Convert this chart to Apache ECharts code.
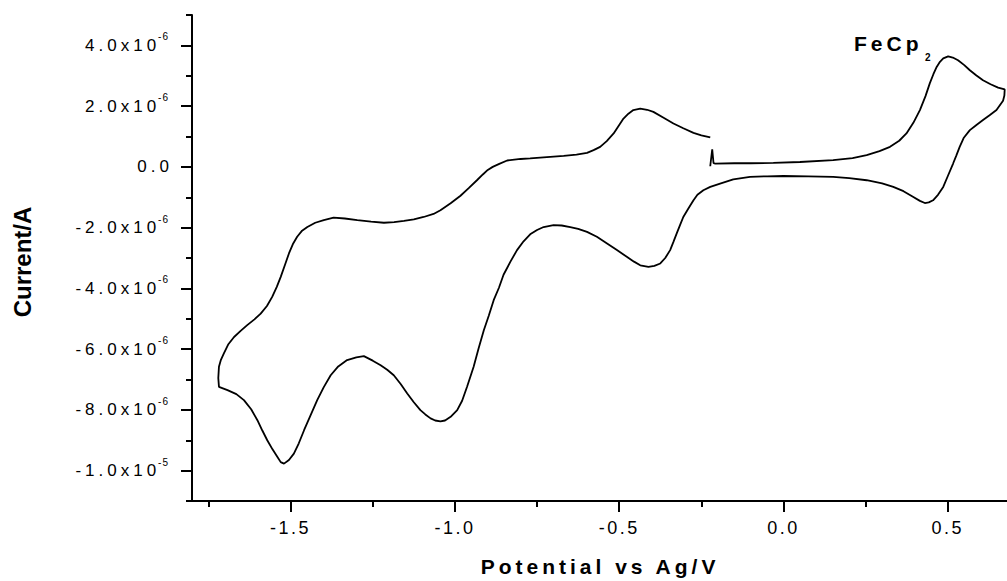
<!DOCTYPE html>
<html>
<head>
<meta charset="utf-8">
<script src="https://cdn.jsdelivr.net/npm/echarts@6/dist/echarts.min.js"></script>
<style>
html, body { margin: 0; padding: 0; background: #fff; }
#chart { width: 1007px; height: 581px; }
#chart svg text[style*="17px"] { letter-spacing: 4px; }
#chart svg text[style*="18px"] { letter-spacing: 2.5px; }
#chart svg text[style*="21px"] { letter-spacing: 4px; }
#chart svg text[style*="10px"] { letter-spacing: 1px; }
</style>
</head>
<body>
<div id="chart"></div>
<script>
// Cyclic voltammogram, potential (V vs Ag) in scan order
const potential = [
  -0.223, -0.217, -0.213, -0.208, -0.150, -0.100, -0.031, 0.050, 0.151, 0.210,
  0.253, 0.292, 0.324, 0.352, 0.374, 0.395, 0.415, 0.432, 0.445, 0.456,
  0.466, 0.476, 0.486, 0.501, 0.515, 0.531, 0.550, 0.567, 0.587, 0.607,
  0.630, 0.653, 0.673, 0.672, 0.668, 0.648, 0.627, 0.607, 0.587, 0.567,
  0.548, 0.536, 0.526, 0.516, 0.500, 0.486, 0.470, 0.455, 0.442, 0.430,
  0.415, 0.395, 0.365, 0.334, 0.300, 0.253, 0.200, 0.151, 0.075, 0.000,
  -0.050, -0.102, -0.153, -0.193, -0.223, -0.244, -0.262, -0.274, -0.290, -0.305,
  -0.315, -0.325, -0.335, -0.345, -0.360, -0.375, -0.393, -0.411, -0.436, -0.455,
  -0.477, -0.507, -0.537, -0.568, -0.598, -0.625, -0.649, -0.675, -0.700, -0.730,
  -0.750, -0.771, -0.791, -0.811, -0.831, -0.852, -0.866, -0.882, -0.897, -0.912,
  -0.928, -0.943, -0.963, -0.978, -0.993, -1.013, -1.030, -1.044, -1.060, -1.074,
  -1.090, -1.105, -1.125, -1.145, -1.165, -1.186, -1.206, -1.226, -1.250, -1.277,
  -1.300, -1.328, -1.355, -1.378, -1.399, -1.419, -1.440, -1.459, -1.475, -1.490,
  -1.505, -1.520, -1.530, -1.540, -1.555, -1.571, -1.586, -1.601, -1.620, -1.642,
  -1.665, -1.692, -1.718, -1.720, -1.718, -1.712, -1.703, -1.690, -1.672, -1.652,
  -1.632, -1.610, -1.591, -1.572, -1.556, -1.542, -1.530, -1.517, -1.505, -1.492,
  -1.480, -1.465, -1.449, -1.425, -1.399, -1.369, -1.335, -1.297, -1.255, -1.216,
  -1.185, -1.155, -1.125, -1.095, -1.065, -1.044, -1.013, -0.983, -0.958, -0.933,
  -0.915, -0.900, -0.885, -0.865, -0.841, -0.800, -0.771, -0.720, -0.669, -0.630,
  -0.598, -0.578, -0.558, -0.538, -0.517, -0.500, -0.487, -0.472, -0.457, -0.436,
  -0.415, -0.396, -0.365, -0.335, -0.305, -0.274, -0.250, -0.223
];
// Current in units of 1e-6 A, same order
const current = [
  0.02, 0.58, 0.12, 0.11, 0.12, 0.12, 0.13, 0.16, 0.22, 0.29,
  0.39, 0.52, 0.66, 0.86, 1.10, 1.45, 1.87, 2.33, 2.75, 3.05,
  3.29, 3.46, 3.57, 3.64, 3.60, 3.51, 3.35, 3.18, 3.01, 2.85,
  2.72, 2.61, 2.55, 2.35, 2.18, 1.87, 1.70, 1.54, 1.38, 1.21,
  0.95, 0.66, 0.38, 0.11, -0.30, -0.66, -0.92, -1.10, -1.17, -1.19,
  -1.12, -0.99, -0.80, -0.66, -0.54, -0.44, -0.37, -0.33, -0.31, -0.30,
  -0.31, -0.33, -0.41, -0.55, -0.66, -0.77, -0.92, -1.10, -1.38, -1.65,
  -1.92, -2.19, -2.47, -2.74, -3.00, -3.18, -3.26, -3.29, -3.24, -3.12,
  -2.96, -2.74, -2.52, -2.30, -2.14, -2.04, -1.98, -1.93, -1.92, -1.98,
  -2.08, -2.22, -2.45, -2.74, -3.12, -3.55, -3.98, -4.39, -4.90, -5.38,
  -5.98, -6.58, -7.24, -7.70, -8.01, -8.23, -8.35, -8.38, -8.35, -8.28,
  -8.15, -8.01, -7.75, -7.46, -7.15, -6.86, -6.68, -6.53, -6.38, -6.23,
  -6.27, -6.36, -6.57, -6.86, -7.25, -7.68, -8.20, -8.67, -9.10, -9.44,
  -9.65, -9.77, -9.72, -9.55, -9.30, -9.00, -8.68, -8.34, -7.98, -7.68,
  -7.48, -7.35, -7.24, -6.95, -6.58, -6.35, -6.14, -5.85, -5.60, -5.40,
  -5.21, -5.02, -4.83, -4.58, -4.28, -3.95, -3.62, -3.22, -2.85, -2.52,
  -2.30, -2.10, -1.98, -1.84, -1.75, -1.67, -1.70, -1.75, -1.80, -1.84,
  -1.82, -1.78, -1.73, -1.65, -1.55, -1.43, -1.20, -0.95, -0.70, -0.44,
  -0.25, -0.10, 0.00, 0.10, 0.21, 0.26, 0.28, 0.32, 0.36, 0.40,
  0.46, 0.55, 0.66, 0.85, 1.10, 1.38, 1.59, 1.75, 1.87, 1.92,
  1.88, 1.81, 1.62, 1.43, 1.27, 1.12, 1.04, 0.97
];

const xMajorTicks = [-1.5, -1.0, -0.5, 0.0, 0.5];
const xMinorTicks = [-1.75, -1.25, -0.75, -0.25, 0.25];
const yMajorTicks = [-10, -8, -6, -4, -2, 0, 2, 4];       // x1e-6 A
const yMinorTicks = [-11, -9, -7, -5, -3, -1, 1, 3, 5];   // x1e-6 A
const yExpLabelTicks = [-10, -8, -6, -4, -2, 2, 4];       // labels written as a x10^n
const yZeroLabelTicks = [0];                              // label "0.0"

const xTitle = 'Potential vs Ag/V';
const yTitle = 'Current/A';
const annotMain = 'FeCp';
const annotSub = '2';

const FONT = 'Liberation Sans, Arial, sans-serif';
const INK = '#000';

function yLabel(v) {
  if (Math.abs(v) < 1e-9) return '0.0';
  const e = Math.floor(Math.log10(Math.abs(v)) + 1e-9);
  const m = v / Math.pow(10, e);
  return '{m|' + m.toFixed(1) + 'x10}{s|' + (e - 6) + '}';
}

const data = potential.map((p, i) => [p, current[i]]);

const chart = echarts.init(document.getElementById('chart'), null, { renderer: 'svg' });

const axisLineStyle = { color: INK, width: 2 };

chart.setOption({
  animation: false,
  backgroundColor: '#fff',
  grid: { left: 192, top: 15, right: 0, bottom: 80, containLabel: false, outerBoundsMode: 'none' },
  xAxis: [
    {
      type: 'value', min: -1.8, max: 0.68, position: 'bottom',
      axisLine: { show: true, onZero: false, lineStyle: axisLineStyle },
      axisTick: { show: true, length: 11, lineStyle: { color: INK, width: 2 }, customValues: xMajorTicks },
      axisLabel: {
        show: true, customValues: xMajorTicks, margin: 18,
        fontSize: 18, fontFamily: FONT, color: INK,
        formatter: v => v.toFixed(1)
      },
      splitLine: { show: false }
    },
    {
      type: 'value', min: -1.8, max: 0.68, position: 'bottom',
      axisLine: { show: false, onZero: false },
      axisTick: { show: true, length: 6, lineStyle: { color: INK, width: 2 }, customValues: xMinorTicks },
      axisLabel: { show: false },
      splitLine: { show: false }
    }
  ],
  yAxis: [
    {
      type: 'value', min: -11, max: 5, position: 'left',
      axisLine: { show: true, onZero: false, lineStyle: axisLineStyle },
      axisTick: { show: true, length: 11, lineStyle: { color: INK, width: 2 }, customValues: yMajorTicks },
      axisLabel: {
        show: true, customValues: yExpLabelTicks, margin: 23,
        fontSize: 17, fontFamily: FONT, color: INK,
        formatter: yLabel,
        rich: {
          m: { fontSize: 17, fontFamily: FONT, color: INK, lineHeight: 27, align: 'right' },
          s: { fontSize: 10, fontFamily: FONT, color: INK, lineHeight: 10, verticalAlign: 'top', align: 'right' }
        }
      },
      splitLine: { show: false }
    },
    {
      type: 'value', min: -11, max: 5, position: 'left',
      axisLine: { show: false, onZero: false },
      axisTick: { show: true, length: 6, lineStyle: { color: INK, width: 2 }, customValues: yMinorTicks },
      axisLabel: { show: false },
      splitLine: { show: false }
    },
    {
      type: 'value', min: -11, max: 5, position: 'left',
      axisLine: { show: false, onZero: false },
      axisTick: { show: false },
      axisLabel: {
        show: true, customValues: yZeroLabelTicks, margin: 19,
        fontSize: 17, fontFamily: FONT, color: INK,
        formatter: yLabel
      },
      splitLine: { show: false }
    }
  ],
  series: [{
    type: 'line',
    data: data,
    xAxisIndex: 0,
    yAxisIndex: 0,
    showSymbol: false,
    symbol: 'none',
    smooth: false,
    lineStyle: { color: INK, width: 1.8 },
    z: 3
  }],
  graphic: [
    {
      type: 'text', x: 600, y: 566,
      style: { text: xTitle, fontSize: 21, fontWeight: 'bold', fontFamily: FONT, fill: INK, textAlign: 'center', textVerticalAlign: 'middle' }
    },
    {
      type: 'text', x: 22, y: 262, rotation: Math.PI / 2,
      style: { text: yTitle, fontSize: 24, fontWeight: 'bold', fontFamily: FONT, fill: INK, textAlign: 'center', textVerticalAlign: 'middle' }
    },
    {
      type: 'text', x: 854, y: 43,
      style: { text: annotMain, fontSize: 21, fontWeight: 'bold', fontFamily: FONT, fill: INK, textAlign: 'left', textVerticalAlign: 'middle' }
    },
    {
      type: 'text', x: 925, y: 57,
      style: { text: annotSub, fontSize: 10, fontWeight: 'bold', fontFamily: FONT, fill: INK, textAlign: 'left', textVerticalAlign: 'middle' }
    }
  ]
});
</script>
</body>
</html>
